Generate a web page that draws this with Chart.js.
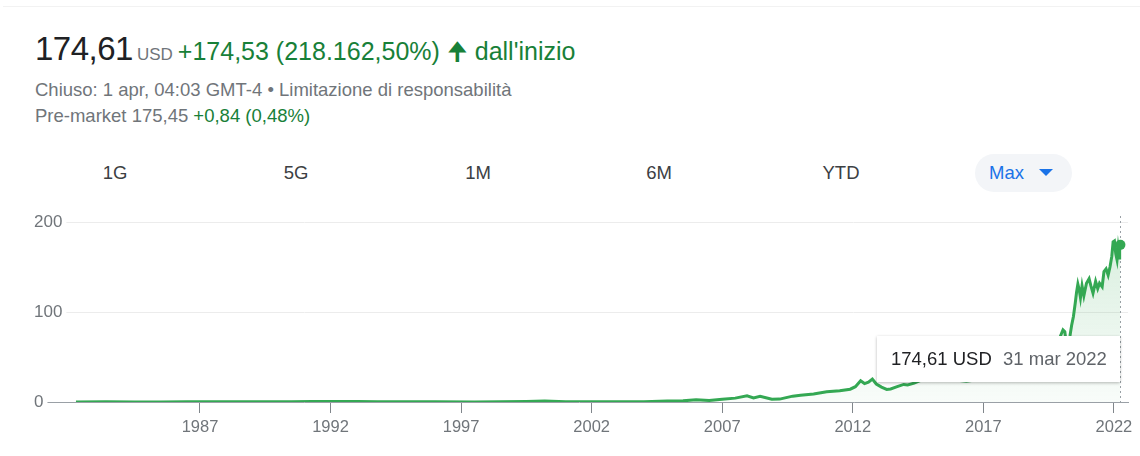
<!DOCTYPE html>
<html>
<head>
<meta charset="utf-8">
<script src="https://cdn.jsdelivr.net/npm/chart.js@4.4.1/dist/chart.umd.min.js"></script>
<style>
  html, body { margin: 0; padding: 0; background: #fff; }
  body { width: 1140px; height: 456px; overflow: hidden; position: relative; font-family: 'Liberation Sans', Arial, sans-serif; }
  .topline { position: absolute; left: 3px; right: 0; top: 6px; height: 1px; background: #f2f2f2; }
  .head { position: absolute; left: 35px; top: 30px; display: flex; align-items: baseline; white-space: nowrap; }
  .price { font-size: 33px; color: #202124; letter-spacing: -0.5px; }
  .cur { font-size: 17px; color: #70757a; margin-left: 4px; }
  .chg { font-size: 25px; color: #188038; margin-left: 5px; }
  .sub { position: absolute; left: 35px; font-size: 18.5px; color: #70757a; white-space: nowrap; }
  .green { color: #188038; }
  .tab { position: absolute; top: 162px; font-size: 18.5px; color: #3c4043; transform: translateX(-50%); }
  .pill { position: absolute; left: 975px; top: 154px; width: 97px; height: 38px; border-radius: 19px; background: #f3f5f8; }
  .max { position: absolute; left: 989px; top: 162px; font-size: 18.5px; color: #1a73e8; }
  .tri { position: absolute; left: 1039px; top: 169px; width: 0; height: 0; border-left: 7px solid transparent; border-right: 7px solid transparent; border-top: 7px solid #1a73e8; }
  #wrap { position: absolute; left: 0; top: 195px; width: 1140px; height: 261px; }
  .tip { position: absolute; left: 877px; top: 336px; width: 243px; height: 46px; background: #fff; box-shadow: 0 1px 3px rgba(0,0,0,0.28); font-size: 18.5px; line-height: 46px; white-space: nowrap; }
  .tip .v { position: absolute; left: 14px; color: #202124; }
  .tip .d { position: absolute; left: 126px; color: #5f6368; }
</style>
</head>
<body>
<div class="topline"></div>
<div class="head">
  <span class="price">174,61</span><span class="cur">USD</span><span class="chg">+174,53 (218.162,50%) &#129033; dall'inizio</span>
</div>
<div class="sub" style="top:79px">Chiuso: 1 apr, 04:03 GMT-4 • Limitazione di responsabilità</div>
<div class="sub" style="top:105px">Pre-market 175,45 <span class="green">+0,84 (0,48%)</span></div>

<div class="tab" style="left:115px">1G</div>
<div class="tab" style="left:296px">5G</div>
<div class="tab" style="left:478px">1M</div>
<div class="tab" style="left:659px">6M</div>
<div class="tab" style="left:841px">YTD</div>
<div class="pill"></div>
<div class="max">Max</div>
<div class="tri"></div>

<div id="wrap"><canvas id="chart"></canvas></div>
<div class="tip"><span class="v">174,61 USD</span><span class="d">31 mar 2022</span></div>

<script>
// price history (USD, split adjusted)
const years = [
  1982.25, 1983.4, 1984.5, 1985.5, 1986.5, 1987.7, 1988.5, 1989.5, 1990.5, 1991.3,
  1992.0, 1993.0, 1993.8, 1995.0, 1996.0, 1997.5, 1998.5, 1999.5, 2000.2, 2001.0,
  2002.0, 2003.3, 2004.0, 2004.9, 2005.5, 2006.0, 2006.5, 2007.0, 2007.5, 2007.95,
  2008.2, 2008.45, 2008.9, 2009.2, 2009.7, 2010.0, 2010.5, 2011.0, 2011.5, 2011.9,
  2012.1, 2012.3, 2012.45, 2012.6, 2012.75, 2012.9, 2013.1, 2013.3, 2013.45, 2013.7,
  2013.95, 2014.1, 2014.35, 2014.6, 2014.85, 2015.1, 2015.35, 2015.6, 2015.85, 2016.1,
  2016.35, 2016.6, 2016.75, 2017.0, 2017.4, 2017.8, 2018.1, 2018.4, 2018.75, 2019.0,
  2019.3, 2019.5, 2019.75, 2019.95, 2020.05, 2020.12, 2020.2, 2020.27, 2020.32, 2020.38,
  2020.45, 2020.52, 2020.57, 2020.62, 2020.67, 2020.72, 2020.78, 2020.85, 2020.95, 2021.05,
  2021.12, 2021.2, 2021.3, 2021.38, 2021.45, 2021.55, 2021.62, 2021.7, 2021.78, 2021.85,
  2021.92, 2021.97, 2022.02, 2022.07, 2022.12, 2022.16, 2022.2, 2022.22, 2022.25
];
const prices = [
  0.1, 0.2, 0.1, 0.07, 0.15, 0.4, 0.35, 0.35, 0.3, 0.5,
  0.55, 0.45, 0.2, 0.3, 0.2, 0.13, 0.3, 0.6, 1.0, 0.25,
  0.35, 0.22, 0.35, 1.1, 1.3, 2.5, 1.8, 3.0, 4.3, 6.8,
  4.5, 6.3, 3.0, 3.2, 6.5, 7.6, 9.0, 11.5, 12.5, 14.2,
  17, 23.5, 20.5, 22, 25.5, 20, 16.5, 14, 14.5, 17,
  19.5, 19, 21, 24, 26.5, 30, 32, 29, 24.5, 24,
  23, 24, 28, 29, 37, 42, 42, 47, 55, 37,
  50, 49, 58, 73, 80, 78, 60, 66, 74, 85,
  95, 110, 122, 131, 125, 116, 129, 118, 132, 137,
  129, 121, 134, 126, 132, 128, 145, 148, 141, 150,
  162, 178, 179, 165, 158, 170, 160, 168, 174.61
];
const xTickYears = [1987, 1992, 1997, 2002, 2007, 2012, 2017, 2022];
const yTickValues = [0, 100, 200];

const GREEN = '#34a853';
const lastIdx = prices.length - 1;

const endGuide = {
  id: 'endGuide',
  beforeDatasetsDraw(chart) {
    const { ctx, chartArea, scales } = chart;
    const x = Math.round(scales.x.getPixelForValue(years[lastIdx])) + 0.5;
    ctx.save();
    ctx.strokeStyle = '#9aa0a6';
    ctx.lineWidth = 1;
    ctx.setLineDash([2, 3]);
    ctx.beginPath();
    ctx.moveTo(x, chartArea.top - 6);
    ctx.lineTo(x, chartArea.bottom);
    ctx.stroke();
    ctx.restore();
  }
};

new Chart(document.getElementById('chart'), {
  type: 'line',
  data: {
    datasets: [{
      data: years.map((y, i) => ({ x: y, y: prices[i] })),
      borderColor: GREEN,
      borderWidth: 3,
      tension: 0,
      fill: 'origin',
      backgroundColor: (c) => {
        const { ctx, chartArea } = c.chart;
        if (!chartArea) return 'rgba(0,0,0,0)';
        const g = ctx.createLinearGradient(0, chartArea.top, 0, chartArea.bottom);
        g.addColorStop(0, 'rgba(52,168,83,0.2)');
        g.addColorStop(1, 'rgba(52,168,83,0.03)');
        return g;
      },
      pointRadius: (c) => c.dataIndex === lastIdx ? 5 : 0,
      pointBackgroundColor: GREEN,
      pointBorderWidth: 0,
      pointHoverRadius: 0
    }]
  },
  options: {
    responsive: true,
    maintainAspectRatio: false,
    animation: false,
    events: [],
    layout: { padding: { left: 22, right: 12, top: 27, bottom: 0 } },
    plugins: { legend: { display: false }, tooltip: { enabled: false } },
    scales: {
      x: {
        type: 'linear',
        min: 1980.49,
        max: 2022.54,
        afterBuildTicks: (s) => { s.ticks = xTickYears.map(v => ({ value: v })); },
        afterFit: (s) => { s.height = 54; },
        grid: { drawOnChartArea: false, drawTicks: true, tickLength: 11, color: '#80868b' },
        border: { display: true, color: '#9aa0a6', width: 1 },
        ticks: {
          color: '#70757a',
          font: { family: "'Liberation Sans', Arial, sans-serif", size: 16.5 },
          padding: 5,
          maxRotation: 0,
          autoSkip: false,
          callback: (v) => String(v)
        }
      },
      y: {
        position: 'left',
        min: 0,
        max: 200,
        afterBuildTicks: (s) => { s.ticks = yTickValues.map(v => ({ value: v })); },
        grid: {
          drawTicks: false,
          color: (c) => c.tick && c.tick.value === 0 ? 'rgba(0,0,0,0)' : '#ececec'
        },
        border: { display: false },
        ticks: {
          mirror: true,
          padding: 4,
          z: 1,
          color: '#70757a',
          font: { family: "'Liberation Sans', Arial, sans-serif", size: 17 },
          showLabelBackdrop: true,
          backdropColor: '#ffffff',
          backdropPadding: { top: 2, bottom: 2, left: 4, right: 4 },
          callback: (v) => String(v)
        }
      }
    }
  },
  plugins: [endGuide]
});
</script>
</body>
</html>
